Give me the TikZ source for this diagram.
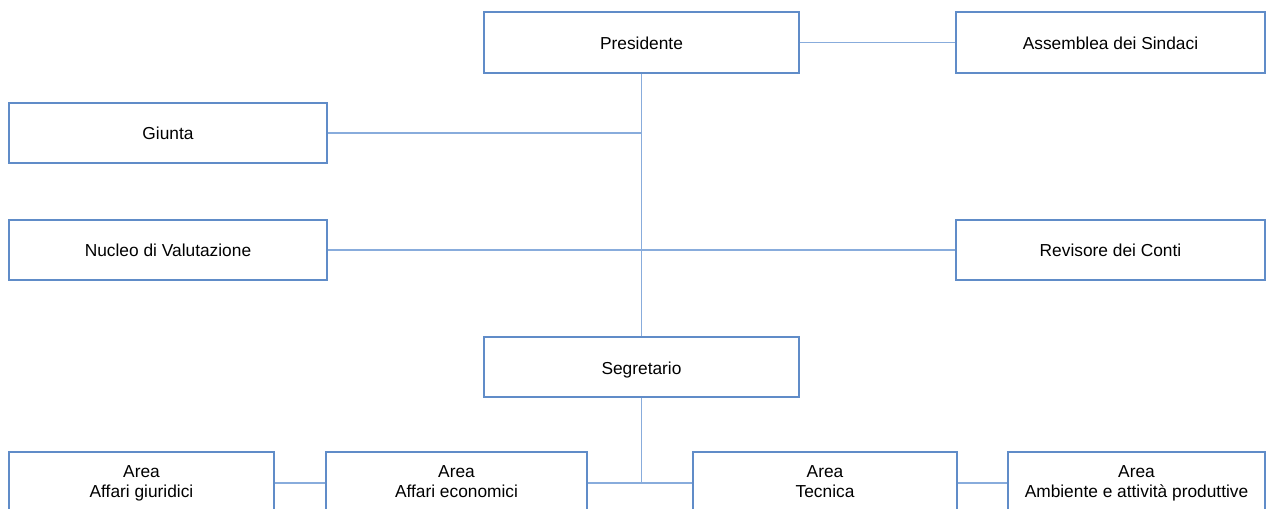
\documentclass[tikz,border=0pt]{standalone}
\usepackage{fontspec}
\setmainfont{Liberation Sans}
\definecolor{boxblue}{RGB}{96,140,200}
\definecolor{lineblue}{RGB}{136,172,220}
\begin{document}
\begin{tikzpicture}[x=0.75pt,y=-0.75pt,
  orgbox/.style={draw=boxblue,line width=1.9pt,fill=white,rectangle,inner sep=0pt,
    font=\fontsize{13pt}{15pt}\selectfont,align=center},
  oneline/.style={orgbox,text height=11.5pt,text depth=1pt},
  wide/.style={oneline,minimum width=236.25pt,minimum height=45.5pt},
  side/.style={oneline,minimum width=238.5pt,minimum height=45pt},
  area/.style={orgbox,minimum height=46.5pt},
  link/.style={draw=lineblue,line width=1.3pt}]
\useasboundingbox (0,0) rectangle (1266,509);
\clip (0,0) rectangle (1266,509);
\node[wide] (pres) at (641.5,42.5) {Presidente};
\node[oneline,minimum width=231.75pt,minimum height=45.5pt] (ass) at (1110.5,42.5) {Assemblea dei Sindaci};
\node[side] (giu) at (168,133) {Giunta};
\node[side] (nuc) at (168,250) {Nucleo di Valutazione};
\node[oneline,minimum width=231.75pt,minimum height=45pt] (rev) at (1110.5,250) {Revisore dei Conti};
\node[wide,minimum height=45pt] (seg) at (641.5,367) {Segretario};
\node[area,minimum width=198.75pt] (ag) at (141.5,483) {Area\\Affari giuridici\vphantom{gp}};
\node[area,minimum width=195.75pt] (ae) at (456.5,483) {Area\\Affari economici\vphantom{gp}};
\node[area,minimum width=198pt] (at) at (825,483) {Area\\Tecnica\vphantom{gp}};
\node[area,minimum width=192.75pt] (aa) at (1136.5,483) {Area\\Ambiente e attività produttive\vphantom{gp}};
\coordinate (jg) at (pres.south |- giu.east);
\coordinate (jb) at (seg.south |- ae.east);
\draw[link] (pres.east) -- (ass.west);
\draw[link] (pres.south) -- (seg.north);
\draw[link] (giu.east) -- (jg);
\draw[link] (nuc.east) -- (rev.west);
\draw[link] (seg.south) -- (jb);
\draw[link] (ae.east) -- (at.west);
\draw[link] (ag.east) -- (ae.west);
\draw[link] (at.east) -- (aa.west);
\end{tikzpicture}
\end{document}
